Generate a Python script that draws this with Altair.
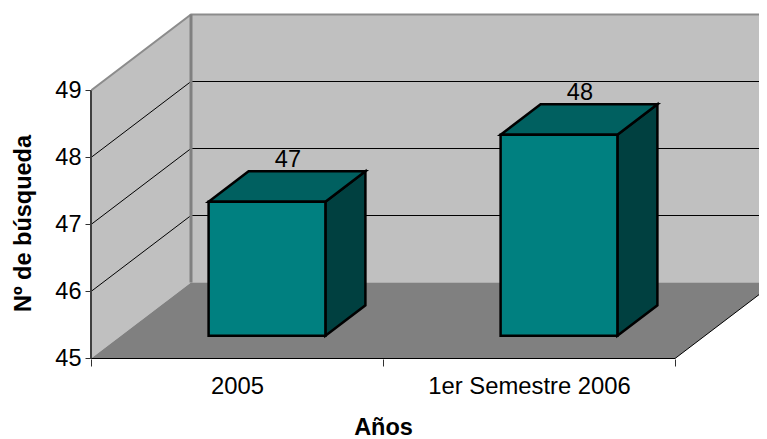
import altair as alt
import pandas as pd

categories = ["2005", "1er Semestre 2006"]
values = [47, 48]
y_ticks = [45, 46, 47, 48, 49]
grid_values = [46, 47, 48]

FONT = "Liberation Sans"
WALL, FLOOR = "#C0C0C0", "#808080"
FRONT, TOP, SIDE = "#008080", "#006060", "#004040"

# projection of the pseudo-3D box, in data units
PX_X, PX_Y = 292.0, 67.0          # pixels per category, pixels per value unit
DX, DV = 100 / PX_X, 76 / PX_Y    # shift of the back plane
BASE = 45
PAD_L, PAD_T = 83, 0
W, H = 668, 351
X_MAX = W / PX_X
Y_MIN = BASE - 0.5 / PX_Y
Y_MAX = Y_MIN + H / PX_Y
BAR_W = 0.4
D0, D1 = 0.30, 0.70               # bar depth range


def px(x, d):
    return x + d * DX


def pv(v, d):
    return v + d * DV


xs = alt.Scale(domain=[0, X_MAX], nice=False, zero=False)
ys = alt.Scale(domain=[Y_MIN, Y_MAX], nice=False, zero=False)

label_expr = "datum.value === 0.5 ? '%s' : datum.value === 1.5 ? '%s' : ''" % tuple(categories)
X = alt.X("x:Q", scale=xs, axis=alt.Axis(
    values=[0, 0.5, 1, 1.5, 2], labelExpr=label_expr, title="Años", grid=False, domain=False,
    tickColor="#303030", tickSize=7, tickWidth=1,
    tickOpacity={"condition": {"test": "datum.value % 1 !== 0", "value": 0}, "value": 1},
    labelFont=FONT, labelFontSize=23.8, labelColor="#000000", labelPadding=8, labelLimit=400,
    labelOverlap=False, labelFlush=False, labelAngle=0,
    titleFont=FONT, titleFontSize=23.5, titleFontWeight="bold", titleColor="#000000",
    titleX=292, titleY=75, titleAnchor="middle", titleBaseline="alphabetic", titleLimit=400,
))
Y = alt.Y("y:Q", scale=ys, axis=alt.Axis(
    values=y_ticks, title="Nº de búsqueda", grid=False, domain=False,
    tickColor="#303030", tickSize=6, tickWidth=1,
    labelFont=FONT, labelFontSize=23.5, labelColor="#000000", labelPadding=4,
    titleFont=FONT, titleFontSize=23.5, titleFontWeight="bold", titleColor="#000000",
    titleX=-61, titleY=215, titleAngle=270, titleAnchor="middle", titleBaseline="alphabetic",
    titleLimit=400,
))


def poly(rows):
    return pd.DataFrame(rows, columns=["face", "fill", "x", "y", "y2"])


# room
room = poly([
    ["left", WALL, px(0, 0), pv(BASE, 0), pv(49, 0)],
    ["left", WALL, px(0, 1), pv(BASE, 1), pv(49, 1)],
    ["back", WALL, px(0, 1), pv(BASE, 1), pv(49, 1)],
    ["back", WALL, X_MAX, pv(BASE, 1), pv(49, 1)],
    ["floor", FLOOR, px(0, 0), pv(BASE, 0), pv(BASE, 0)],
    ["floor", FLOOR, px(0, 1), pv(BASE, 0), pv(BASE, 1)],
    ["floor", FLOOR, px(2, 0), pv(BASE, 0), pv(BASE, 1)],
    ["floor", FLOOR, px(2, 1), pv(BASE, 1), pv(BASE, 1)],
])
room_layer = alt.Chart(room).mark_area(clip=True, interpolate="linear").encode(
    x=X, y=Y, y2="y2:Q", detail="face:N", color=alt.Color("fill:N", scale=None)
)

# grid lines across side wall and back wall
grid = pd.DataFrame(
    [{"g": v, "x": x, "y": y} for v in grid_values
     for x, y in [(px(0, 0), pv(v, 0)), (px(0, 1), pv(v, 1)), (X_MAX, pv(v, 1))]]
)
grid_layer = alt.Chart(grid).mark_line(color="#000000", strokeWidth=1, clip=True).encode(
    x=X, y=Y, detail="g:N"
)

# wall borders
border = pd.DataFrame(
    [{"k": "top", "o": i, "x": x, "y": y} for i, (x, y) in enumerate(
        [(px(0, 0), pv(49, 0)), (px(0, 1), pv(49, 1)), (X_MAX, pv(49, 1))])]
)
border_layer = alt.Chart(border).mark_line(color="#8C8C8C", strokeWidth=2, clip=True).encode(
    x=X, y=Y, order="o:Q"
)
post = pd.DataFrame({"x": [px(0, 1)], "y": [pv(BASE, 1)], "y2": [pv(49, 1)]})
post_layer = alt.Chart(post).mark_rule(color="#808080", strokeWidth=3, clip=True).encode(
    x=X, y=Y, y2="y2:Q"
)

# front edges of the floor
edges = pd.DataFrame([
    {"k": "front", "x": px(0, 0), "y": pv(BASE, 0)},
    {"k": "front", "x": px(2, 0), "y": pv(BASE, 0)},
    {"k": "slant", "x": px(2, 0), "y": pv(BASE, 0)},
    {"k": "slant", "x": px(2, 1), "y": pv(BASE, 1)},
])
edge_layer = alt.Chart(edges).mark_line(color="#000000", strokeWidth=1, clip=True).encode(
    x=X, y=Y, detail="k:N"
)
yaxis_line = pd.DataFrame({"x": [0], "y": [BASE], "y2": [49]})
yaxis_layer = alt.Chart(yaxis_line).mark_rule(color="#404040", strokeWidth=2).encode(
    x=X, y=Y, y2="y2:Q"
)

# bars
rows = []
for i, v in enumerate(values):
    x0 = i + 0.5 - BAR_W / 2
    x1 = i + 0.5 + BAR_W / 2
    xa, xb = px(x0, D0), px(x1, D0)
    xc, xd = px(x0, D1), px(x1, D1)
    b0, b1 = pv(BASE, D0), pv(BASE, D1)
    t0, t1 = pv(v, D0), pv(v, D1)
    rows += [
        [f"side{i}", SIDE, xb, b0, t0],
        [f"side{i}", SIDE, xd, b1, t1],
        [f"top{i}", TOP, xa, t0, t0],
        [f"top{i}", TOP, xc, t0, t1],
        [f"top{i}", TOP, xb, t0, t1],
        [f"top{i}", TOP, xd, t1, t1],
        [f"front{i}", FRONT, xa, b0, t0],
        [f"front{i}", FRONT, xb, b0, t0],
    ]
bars_layer = alt.Chart(poly(rows)).mark_area(
    stroke="#000000", strokeWidth=2.5, strokeJoin="miter", interpolate="linear"
).encode(x=X, y=Y, y2="y2:Q", detail="face:N", color=alt.Color("fill:N", scale=None))

# data labels
lab = pd.DataFrame({
    "x": [px(i + 0.5, (D0 + D1) / 2) + 0.003 for i in range(len(values))],
    "y": [pv(v, D1) for v in values],
    "t": [str(v) for v in values],
})
label_layer = alt.Chart(lab).mark_text(
    font=FONT, fontSize=23.5, color="#000000", baseline="bottom", dy=1
).encode(x=X, y=Y, text="t:N")

chart = alt.layer(
    room_layer, grid_layer, border_layer, post_layer, edge_layer,
    bars_layer, yaxis_layer, label_layer,
).properties(
    width=W, height=H,
    padding={"left": PAD_L, "top": PAD_T, "right": 0, "bottom": 431 - PAD_T - H},
    autosize=alt.AutoSizeParams(type="none"),
    background="#FFFFFF",
).configure_view(stroke=None)

chart.save("out.html", embed_options={"renderer": "svg", "actions": False})
